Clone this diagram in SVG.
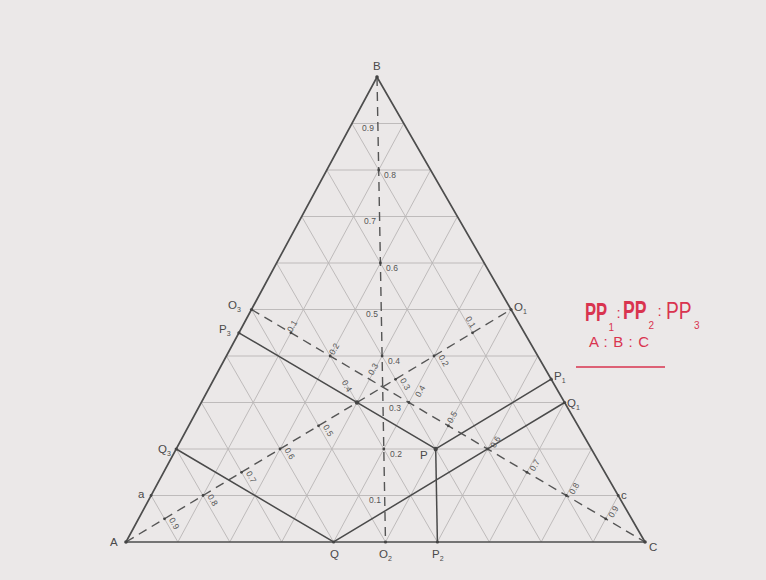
<svg xmlns="http://www.w3.org/2000/svg" width="766" height="580" viewBox="0 0 766 580">
<style>
.grid line{stroke:#b9b6b6;stroke-width:0.9}
.edge{fill:none;stroke:#4d4d4d;stroke-width:1.7;stroke-linejoin:miter}
.dash{stroke:#555;stroke-width:1.4;stroke-dasharray:9 6;fill:none}
.solid{stroke:#4a4a4a;stroke-width:1.5;fill:none}
.dot{fill:#444}
.lbl{font-family:"Liberation Sans",Arial,sans-serif;font-size:11.5px;fill:#4a4a4a}
.sub{font-size:7px}
.num{font-family:"Liberation Sans",Arial,sans-serif;font-size:8.5px;fill:#555;text-anchor:middle}
.red{font-family:"Liberation Sans",Arial,sans-serif;fill:#d9344f}
.pp{font-size:26px;font-weight:bold}
.rs{font-size:10px}
</style>
<rect x="0" y="0" width="766" height="580" fill="#ebe8e8"/>

<g id="grid" class="grid">
<line x1="151.1" y1="495.5" x2="618.2" y2="495.5"/>
<line x1="176.2" y1="449" x2="591.4" y2="449"/>
<line x1="201.3" y1="402.5" x2="564.6" y2="402.5"/>
<line x1="226.4" y1="356" x2="537.8" y2="356"/>
<line x1="251.5" y1="309.5" x2="511" y2="309.5"/>
<line x1="276.6" y1="263" x2="484.2" y2="263"/>
<line x1="301.7" y1="216.5" x2="457.4" y2="216.5"/>
<line x1="326.8" y1="170" x2="430.6" y2="170"/>
<line x1="351.9" y1="123.5" x2="403.8" y2="123.5"/>
<line x1="351.9" y1="123.5" x2="593.1" y2="542"/>
<line x1="326.8" y1="170" x2="541.2" y2="542"/>
<line x1="301.7" y1="216.5" x2="489.3" y2="542"/>
<line x1="276.6" y1="263" x2="437.4" y2="542"/>
<line x1="251.5" y1="309.5" x2="385.5" y2="542"/>
<line x1="226.4" y1="356" x2="333.6" y2="542"/>
<line x1="201.3" y1="402.5" x2="281.7" y2="542"/>
<line x1="176.2" y1="449" x2="229.8" y2="542"/>
<line x1="151.1" y1="495.5" x2="177.9" y2="542"/>
<line x1="177.9" y1="542" x2="403.8" y2="123.5"/>
<line x1="229.8" y1="542" x2="430.6" y2="170"/>
<line x1="281.7" y1="542" x2="457.4" y2="216.5"/>
<line x1="333.6" y1="542" x2="484.2" y2="263"/>
<line x1="385.5" y1="542" x2="511" y2="309.5"/>
<line x1="437.4" y1="542" x2="537.8" y2="356"/>
<line x1="489.3" y1="542" x2="564.6" y2="402.5"/>
<line x1="541.2" y1="542" x2="591.4" y2="449"/>
<line x1="593.1" y1="542" x2="618.2" y2="495.5"/>
</g>

<g id="triangle">
<polygon class="edge" points="126,542 377,77 645,542"/>
</g>

<g id="connectors">
<line class="dash" x1="377" y1="77" x2="385.5" y2="542"/>
<line class="dash" x1="126" y1="542" x2="511" y2="309.5"/>
<line class="dash" x1="251.5" y1="309.5" x2="645" y2="542"/>
<polyline class="solid" points="238.9,332.8 435.7,449 551.2,379.2"/>
<line class="solid" x1="435.7" y1="449" x2="437.4" y2="542"/>
<polyline class="solid" points="176.2,449 333.6,542 564.6,402.5"/>
</g>

<g id="points">
<circle class="dot" cx="435.7" cy="449" r="2.2"/>
<circle class="dot" cx="357" cy="402.5" r="2.2"/>
<circle class="dot" cx="238.9" cy="332.8" r="1.6"/>
<circle class="dot" cx="551.2" cy="379.2" r="1.6"/>
<circle class="dot" cx="437.4" cy="542" r="1.6"/>
<circle class="dot" cx="333.6" cy="542" r="1.6"/>
<circle class="dot" cx="176.2" cy="449" r="1.6"/>
<circle class="dot" cx="564.6" cy="402.5" r="1.6"/>
<circle class="dot" cx="251.5" cy="309.5" r="1.6"/>
<circle class="dot" cx="511" cy="309.5" r="1.6"/>
<circle class="dot" cx="385.5" cy="542" r="1.6"/>
<circle class="dot" cx="151.1" cy="495.5" r="1.4"/>
<circle class="dot" cx="618.2" cy="495.5" r="1.4"/>
<circle class="dot" cx="126" cy="542" r="1.8"/>
<circle class="dot" cx="377" cy="77" r="1.8"/>
<circle class="dot" cx="645" cy="542" r="1.8"/>
<circle class="dot" cx="164.5" cy="518.8" r="1.4"/>
<circle class="dot" cx="203" cy="495.5" r="1.4"/>
<circle class="dot" cx="241.5" cy="472.3" r="1.4"/>
<circle class="dot" cx="280" cy="449" r="1.4"/>
<circle class="dot" cx="318.5" cy="425.8" r="1.4"/>
<circle class="dot" cx="395.5" cy="379.3" r="1.4"/>
<circle class="dot" cx="434" cy="356" r="1.4"/>
<circle class="dot" cx="472.5" cy="332.8" r="1.4"/>
<circle class="dot" cx="290.9" cy="332.8" r="1.4"/>
<circle class="dot" cx="330.2" cy="356" r="1.4"/>
<circle class="dot" cx="408.9" cy="402.5" r="1.4"/>
<circle class="dot" cx="448.3" cy="425.8" r="1.4"/>
<circle class="dot" cx="487.6" cy="449" r="1.4"/>
<circle class="dot" cx="527" cy="472.3" r="1.4"/>
<circle class="dot" cx="566.3" cy="495.5" r="1.4"/>
<circle class="dot" cx="605.7" cy="518.8" r="1.4"/>
<circle class="dot" cx="378.7" cy="170" r="1.4"/>
<circle class="dot" cx="380.4" cy="263" r="1.4"/>
<circle class="dot" cx="382.1" cy="356" r="1.4"/>
<circle class="dot" cx="383.8" cy="449" r="1.4"/>
</g>

<g id="scale-B">
<text class="num" x="368" y="131">0.9</text>
<text class="num" x="390" y="178">0.8</text>
<text class="num" x="370" y="224">0.7</text>
<text class="num" x="392" y="271">0.6</text>
<text class="num" x="372" y="317">0.5</text>
<text class="num" x="394" y="364">0.4</text>
<text class="num" x="395" y="411">0.3</text>
<text class="num" x="396" y="457">0.2</text>
<text class="num" x="375" y="503">0.1</text>
</g>

<g id="scale-A">
<text class="num" x="174.3" y="526.4" transform="rotate(60 174.3 523.4)">0.9</text>
<text class="num" x="212.8" y="503.1" transform="rotate(60 212.8 500.1)">0.8</text>
<text class="num" x="251.3" y="479.9" transform="rotate(60 251.3 476.9)">0.7</text>
<text class="num" x="289.8" y="456.6" transform="rotate(60 289.8 453.6)">0.6</text>
<text class="num" x="328.3" y="433.4" transform="rotate(60 328.3 430.4)">0.5</text>
<text class="num" x="347" y="389" transform="rotate(60 347 386)">0.4</text>
<text class="num" x="405.3" y="386.9" transform="rotate(60 405.3 383.9)">0.3</text>
<text class="num" x="443.8" y="363.6" transform="rotate(60 443.8 360.6)">0.2</text>
<text class="num" x="470.8" y="325.1" transform="rotate(60 470.8 322.1)">0.1</text>
</g>

<g id="scale-C">
<text class="num" x="292" y="329" transform="rotate(-60 292 326)">0.1</text>
<text class="num" x="334" y="351.9" transform="rotate(-60 334 348.9)">0.2</text>
<text class="num" x="373" y="372" transform="rotate(-60 373 369)">0.3</text>
<text class="num" x="420" y="394" transform="rotate(-60 420 391)">0.4</text>
<text class="num" x="452" y="420" transform="rotate(-60 452 417)">0.5</text>
<text class="num" x="495.3" y="444.9" transform="rotate(-60 495.3 441.9)">0.6</text>
<text class="num" x="534.7" y="468.2" transform="rotate(-60 534.7 465.2)">0.7</text>
<text class="num" x="574" y="491.4" transform="rotate(-60 574 488.4)">0.8</text>
<text class="num" x="613.4" y="514.7" transform="rotate(-60 613.4 511.7)">0.9</text>
</g>

<g id="labels">
<text class="lbl" x="373" y="70">B</text>
<text class="lbl" x="110" y="546">A</text>
<text class="lbl" x="649" y="551">C</text>
<text class="lbl" x="228" y="309">O<tspan class="sub" dy="3">3</tspan></text>
<text class="lbl" x="219" y="333">P<tspan class="sub" dy="3">3</tspan></text>
<text class="lbl" x="158" y="453">Q<tspan class="sub" dy="3">3</tspan></text>
<text class="lbl" x="138" y="498">a</text>
<text class="lbl" x="514" y="311">O<tspan class="sub" dy="3">1</tspan></text>
<text class="lbl" x="554" y="380">P<tspan class="sub" dy="3">1</tspan></text>
<text class="lbl" x="567" y="407">Q<tspan class="sub" dy="3">1</tspan></text>
<text class="lbl" x="621" y="499">c</text>
<text class="lbl" x="330" y="558">Q</text>
<text class="lbl" x="379" y="558">O<tspan class="sub" dy="3">2</tspan></text>
<text class="lbl" x="432" y="558">P<tspan class="sub" dy="3">2</tspan></text>
<text class="lbl" x="420" y="459">P</text>
</g>

<g id="note">
<text class="red pp" transform="translate(585 321) scale(0.64 1)">PP</text>
<text class="red rs" x="608.5" y="331">1</text>
<text class="red" x="616.5" y="318" font-size="15">:</text>
<text class="red pp" transform="translate(623 319) scale(0.68 1)">PP</text>
<text class="red rs" x="648.5" y="329">2</text>
<text class="red" x="657.5" y="316" font-size="15">:</text>
<text class="red" transform="translate(666 319) scale(0.8 1)" font-size="24" fill="#c23a50">PP</text>
<text class="red rs" x="694" y="329" fill="#c23a50">3</text>
<text class="red" x="589" y="347" font-size="15" textLength="60" lengthAdjust="spacing">A : B : C</text>
<line x1="576" y1="367" x2="665" y2="367" stroke="#d9344f" stroke-width="1.6"/>
</g>
</svg>
